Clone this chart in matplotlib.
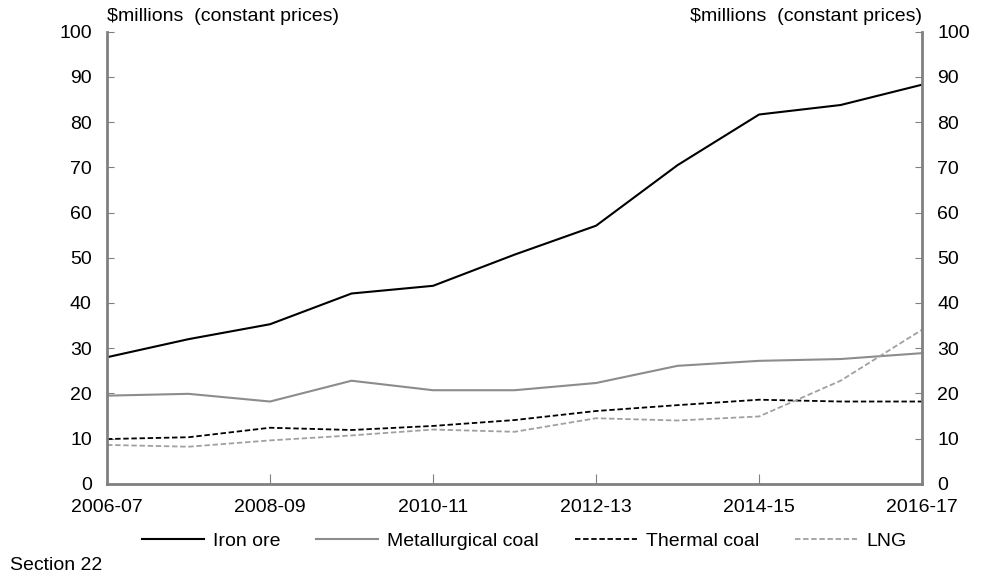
import matplotlib.pyplot as plt
import numpy as np

plt.rcParams['font.family'] = ['Liberation Sans', 'DejaVu Sans']

years = ['2006-07', '2007-08', '2008-09', '2009-10', '2010-11', '2011-12',
         '2012-13', '2013-14', '2014-15', '2015-16', '2016-17']
iron_ore = [28.0, 32.0, 35.3, 42.1, 43.8, 50.7, 57.1, 70.5, 81.7, 83.8, 88.3]
met_coal = [19.5, 19.9, 18.2, 22.8, 20.7, 20.7, 22.3, 26.1, 27.2, 27.6, 28.9]
thermal_coal = [9.9, 10.3, 12.4, 11.9, 12.8, 14.1, 16.1, 17.4, 18.6, 18.2, 18.2]
lng = [8.6, 8.2, 9.6, 10.7, 12.0, 11.5, 14.5, 14.0, 14.9, 22.8, 34.1]

x = np.arange(len(years))
grey = '#808080'
fs = 14

fig = plt.figure(figsize=(9.82, 5.78), dpi=100)
ax = fig.add_axes([0.109, 0.163, 0.830, 0.782])

ax.plot(x, iron_ore, color='black', lw=1.5, label='Iron ore')
ax.plot(x, met_coal, color='#8c8c8c', lw=1.5, label='Metallurgical coal')
ax.plot(x, thermal_coal, color='black', lw=1.3, ls=(0, (3, 1.5)), label='Thermal coal')
ax.plot(x, lng, color='#a0a0a0', lw=1.3, ls=(0, (3, 1.5)), label='LNG')

ax.set_xlim(0, 10)
ax.set_ylim(0, 100)
ax.set_yticks(np.arange(0, 101, 10))
ax.set_xticks(x[::2])
ax.set_xticklabels(years[::2])

ax.spines['top'].set_visible(False)
for s in ['left', 'right', 'bottom']:
    ax.spines[s].set_color(grey)
    ax.spines[s].set_linewidth(2)

ax.tick_params(axis='y', direction='in', length=5, color=grey, labelsize=fs,
               right=True, labelright=True, pad=11)
ax.tick_params(axis='x', direction='in', length=7, color=grey, labelsize=fs, pad=11)

ax.text(0, 1.015, r'\$millions  (constant prices)', transform=ax.transAxes,
        fontsize=fs, ha='left', va='bottom')
ax.text(1, 1.015, r'\$millions  (constant prices)', transform=ax.transAxes,
        fontsize=fs, ha='right', va='bottom')

fig.legend(loc='center', bbox_to_anchor=(524 / 982, 0.064), ncol=4, frameon=False,
           fontsize=fs, handlelength=3.2, columnspacing=1.85, handletextpad=0.45,
           borderaxespad=0, borderpad=0)

fig.text(0.01, 0.021, 'Section 22', fontsize=fs, ha='left', va='center')

fig.savefig('out.png', dpi=100)
